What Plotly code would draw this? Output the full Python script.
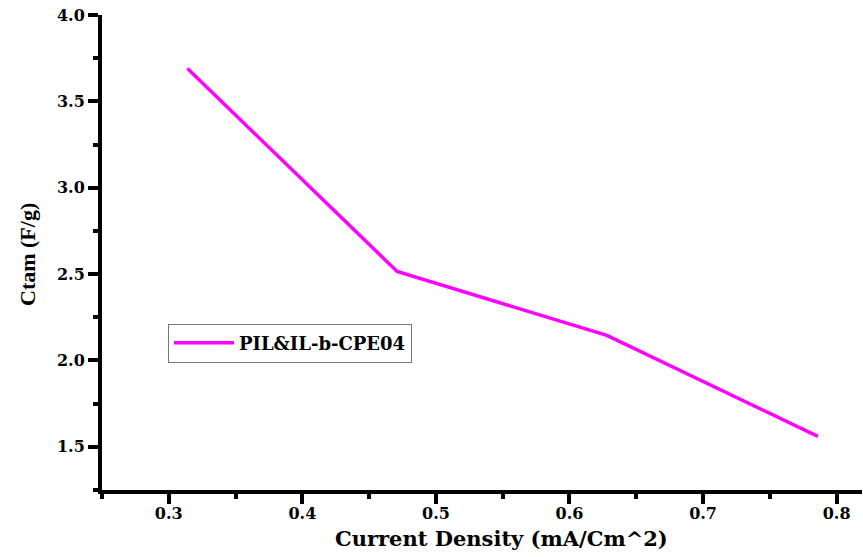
import plotly.graph_objects as go

current_density = [0.314, 0.471, 0.628, 0.786]
ctam = [3.69, 2.515, 2.145, 1.56]
series_name = "PIL&IL-b-CPE04"
x_ticks = [0.3, 0.4, 0.5, 0.6, 0.7, 0.8]
y_ticks = [1.5, 2.0, 2.5, 3.0, 3.5, 4.0]

FONT = "DejaVu Serif"
TFONT = "Liberation Serif"

W, H = 863, 557
L, R, T, B = 102, 1, 15, 67

fig = go.Figure()
fig.add_trace(go.Scatter(
    x=current_density, y=ctam, mode="lines", name=series_name,
    line=dict(color="#FF00FF", width=3.5),
))

def axis_common():
    return dict(
        showline=True, linecolor="black", linewidth=4,
        ticks="outside", ticklen=10, tickwidth=4, tickcolor="black",
        showgrid=False, zeroline=False, mirror=False,
        tickfont=dict(family=FONT, size=16, color="black", weight="bold"),
    )

fig.update_layout(
    width=W, height=H,
    margin=dict(l=L, r=R, t=T, b=B, autoexpand=False),
    paper_bgcolor="white", plot_bgcolor="white",
    showlegend=True,
    legend=dict(
        x=(168 - L) / (W - L - R), y=1 - (343 - T) / (H - T - B),
        xanchor="left", yanchor="middle",
        bordercolor="#777777", borderwidth=1, bgcolor="white",
        font=dict(family=FONT, size=18, color="black", weight="bold"),
        itemwidth=60,
    ),
    xaxis=dict(
        range=[0.25, 0.819], tickvals=x_ticks, ticktext=[f"{v:.1f}" for v in x_ticks],
        minor=dict(dtick=0.05, tick0=0.25, ticks="outside", ticklen=5, tickwidth=4, tickcolor="black"),
        ticklabelstandoff=-4,
        **axis_common(),
    ),
    yaxis=dict(
        range=[1.25, 4.0], tickvals=y_ticks, ticktext=[f"{v:.1f}" for v in y_ticks],
        minor=dict(dtick=0.25, tick0=1.25, ticks="outside", ticklen=5, tickwidth=4, tickcolor="black"),
        **axis_common(),
    ),
)

pw = W - L - R
ph = H - T - B
def px2paper(px, py):
    return (px - L) / pw, 1 - (py - T) / ph

ax, ay = px2paper(501, 538)
fig.add_annotation(text="Current Density (mA/Cm^2)", x=ax, y=ay, xref="paper", yref="paper",
                   xanchor="center", yanchor="middle",
                   showarrow=False, font=dict(family=FONT, size=21, color="black", weight="bold"))
ax, ay = px2paper(27, 255)
fig.add_annotation(text="Ctam (F/g)", x=ax, y=ay, xref="paper", yref="paper", textangle=-90,
                   xanchor="center", yanchor="middle",
                   showarrow=False, font=dict(family=TFONT, size=22, color="black", weight="bold"))

fig.write_html("out.html", config={"displayModeBar": False},
               post_script="document.body.style.margin='0';")
